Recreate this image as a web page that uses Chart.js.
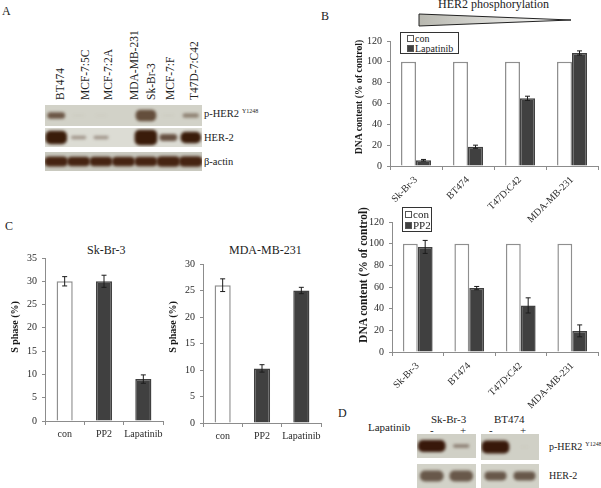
<!DOCTYPE html>
<html>
<head>
<meta charset="utf-8">
<script src="https://cdn.jsdelivr.net/npm/chart.js@4/dist/chart.umd.min.js"></script>
<style>
    html, body { margin: 0; padding: 0; background: #fff; }
    body { position: relative; width: 601px; height: 488px; overflow: hidden; font-family: "Liberation Serif", serif; color: #222; }
    canvas { position: absolute; }
    .t { position: absolute; white-space: nowrap; font-size: 11px; line-height: 12px; }
    .t sup { font-size: 6px; line-height: 0; vertical-align: 4px; margin-left: 3px; }
    .rot { transform-origin: left bottom; transform: rotate(-90deg); font-size: 11.5px; }
    .ytitle { position: absolute; white-space: nowrap; font-weight: bold; color: #1a1a1a; transform: translate(-50%, -50%) rotate(-90deg); }
    .legend { position: absolute; border: 1px solid #333; background: #fff; box-sizing: border-box; }
    .legend div { position: absolute; white-space: nowrap; }
    .legend i { display: inline-block; box-sizing: border-box; width: 7px; height: 7px; border: 1px solid #555; margin-right: 1px; vertical-align: 0; }
</style>
</head>
<body>
<!-- panel letters and wedge -->
<div class="t" style="left:2px;top:5px;font-size:12px">A</div>
<div class="t" style="left:321px;top:10px;font-size:12px">B</div>
<div class="t" style="left:5px;top:220px;font-size:12px">C</div>
<div class="t" style="left:338px;top:407px;font-size:12px">D</div>

<div class="t" style="left:438px;top:-2px;font-size:12px">HER2 phosphorylation</div>
<svg style="position:absolute;left:410px;top:8px" width="170" height="24">
    <defs><linearGradient id="wedge"><stop offset="0" stop-color="#b8b8b0"/><stop offset="1" stop-color="#fff"/></linearGradient></defs>
    <polygon points="9,6 9,18 161,12" fill="url(#wedge)" stroke="#222" stroke-width="1"/>
</svg>

<div class="t" style="left:204px;top:108px;font-size:10.5px">p-HER2<sup>Y1248</sup></div>
<div class="t" style="left:204px;top:132px;font-size:10.5px">HER-2</div>
<div class="t" style="left:204px;top:156px;font-size:10.5px">β-actin</div>

<div class="t" style="left:87px;top:244px;font-size:12px">Sk-Br-3</div>
<div class="t" style="left:229px;top:244px;font-size:12px">MDA-MB-231</div>

<div class="t" style="left:368px;top:421px">Lapatinib</div>
<div class="t" style="left:431px;top:413px">Sk-Br-3</div>
<div class="t" style="left:494px;top:413px">BT474</div>
<div class="t" style="left:430px;top:424px">-</div>
<div class="t" style="left:460px;top:424px">+</div>
<div class="t" style="left:489px;top:424px">-</div>
<div class="t" style="left:520px;top:424px">+</div>
<div class="t" style="left:549px;top:441px;font-size:10px">p-HER2<sup>Y1248</sup></div>
<div class="t" style="left:549px;top:470px;font-size:10px">HER-2</div>

<script>
// ----- values -----
const lanesA = ['BT474', 'MCF-7:5C', 'MCF-7:2A', 'MDA-MB-231', 'Sk-Br-3', 'MCF-7:F', 'T47D-7:C42'];
const pHer2DensityA = [0.55, 0.03, 0.02, 0, 1, 0.03, 0.35];
const her2DensityA = [0.85, 0.2, 0.2, 0, 1, 0.42, 0.72];
const actinDensityA = [0.85, 0.8, 0.8, 0.8, 0.8, 0.9, 0.9];

const lanesD = ['-', '+'];
const pHer2DensitySk = [1, 0.25];
const her2DensitySk = [0.8, 0.8];
const pHer2DensityBt = [1, 0.01];
const her2DensityBt = [0.65, 0.65];

const linesB = ['Sk-Br-3', 'BT474', 'T47D:C42', 'MDA-MB-231'];
const conB = [100, 100, 100, 100];
const lapatinibB = [5.5, 18.5, 65, 108.5];
const lapatinibErrB = [0.8, 1.5, 2, 2];
const pp2B = [97, 59, 43, 19.5];
const pp2ErrB = [6, 1.5, 7, 5.5];

const treatmentsC = ['con', 'PP2', 'Lapatinib'];
const sPhaseSk = [30, 30, 9];
const sPhaseSkErr = [1, 1.3, 0.9];
const sPhaseMda = [26, 10.3, 25];
const sPhaseMdaErr = [1.2, 0.7, 0.6];

const FONT = 'Liberation Serif';
const AXIS = '#8c8c8c';
const DARK = '#404040';
const BAR_EDGE = '#8f8f8f';

Chart.defaults.animation = false;
Chart.defaults.responsive = false;
Chart.defaults.font.family = FONT;
Chart.defaults.color = '#222';

// whisker + caps for every dataset carrying an errors array
const errorBarPlugin = {
    id: 'errorBars',
    afterDatasetsDraw(chart) {
        const ctx = chart.ctx;
        const y = chart.scales.y;
        ctx.save();
        ctx.strokeStyle = '#1c1c1c';
        ctx.lineWidth = 1;
        chart.data.datasets.forEach((ds, i) => {
            if (!ds.errors) return;
            chart.getDatasetMeta(i).data.forEach((bar, j) => {
                const hi = y.getPixelForValue(ds.data[j] + ds.errors[j]);
                const lo = y.getPixelForValue(ds.data[j] - ds.errors[j]);
                ctx.beginPath();
                ctx.moveTo(bar.x, hi); ctx.lineTo(bar.x, lo);
                ctx.moveTo(bar.x - 2.5, hi); ctx.lineTo(bar.x + 2.5, hi);
                ctx.moveTo(bar.x - 2.5, lo); ctx.lineTo(bar.x + 2.5, lo);
                ctx.stroke();
            });
        });
        ctx.restore();
    }
};

// makes the bands soft like film
const blurPlugin = {
    id: 'bandBlur',
    beforeDatasetsDraw(chart) { chart.ctx.save(); chart.ctx.filter = 'blur(1.4px)'; },
    afterDatasetsDraw(chart) { chart.ctx.restore(); }
};

function addCanvas(left, top, width, height) {
    const c = document.createElement('canvas');
    c.width = width;
    c.height = height;
    c.style.left = left + 'px';
    c.style.top = top + 'px';
    document.body.appendChild(c);
    return c;
}

function yTitle(text, x, y, size) {
    const el = document.createElement('div');
    el.className = 'ytitle';
    el.style.cssText = `left:${x}px;top:${y}px;font-size:${size}px`;
    el.textContent = text;
    document.body.appendChild(el);
}

// plot = pixel box of the axes, canvasLeft = left edge of the canvas
function barPanel(plot, canvasLeft, labels, datasets, yMax, yStep, opts) {
    const extraBelow = opts.below;
    const c = addCanvas(canvasLeft, plot.top - 6, plot.right - canvasLeft + 3, plot.bottom - plot.top + 6 + extraBelow);
    new Chart(c, {
        type: 'bar',
        data: { labels: labels, datasets: datasets },
        plugins: [errorBarPlugin],
        options: {
            layout: { padding: { top: 6, right: 3, left: 0, bottom: 0 } },
            plugins: { legend: { display: false }, tooltip: { enabled: false } },
            scales: {
                x: {
                    afterFit(s) { s.height = extraBelow; s.paddingLeft = 0; s.paddingRight = 0; },
                    border: { color: AXIS },
                    grid: { drawOnChartArea: false, color: AXIS, tickLength: 4, offset: true },
                    ticks: {
                        autoSkip: false,
                        minRotation: opts.rotation,
                        maxRotation: opts.rotation,
                        padding: opts.labelPad,
                        font: { size: 10 },
                        color: '#2a2a2a'
                    }
                },
                y: {
                    min: 0,
                    max: yMax,
                    afterFit(s) { s.width = plot.left - canvasLeft; },
                    border: { color: AXIS },
                    grid: { drawOnChartArea: false, color: AXIS, tickLength: 3 },
                    ticks: { stepSize: yStep, padding: 5, font: { size: 10 }, color: '#2a2a2a' }
                }
            }
        }
    });
}

function groupedSets(name, values, errs) {
    const shared = { categoryPercentage: 0.577, barPercentage: 1, borderWidth: 1.5 };
    return [
        Object.assign({ label: 'con', data: conB, backgroundColor: '#fff', borderColor: BAR_EDGE }, shared),
        Object.assign({ label: name, data: values, errors: errs, backgroundColor: DARK, borderColor: DARK }, shared)
    ];
}

function treatmentSet(values, errs) {
    return [{
        data: values,
        errors: errs,
        backgroundColor: ['#fff', DARK, DARK],
        borderColor: [BAR_EDGE, DARK, DARK],
        borderWidth: 1.5,
        categoryPercentage: 0.41,
        barPercentage: 1
    }];
}

// Western blot strip: one floating bar per lane, size and darkness from the density
function blotStrip(box, labels, density, look) {
    const c = addCanvas(box.left, box.top, box.width, box.height);
    c.style.background = look.bg;
    const sets = labels.map((lab, i) => {
        const d = density[i];
        return {
            label: lab,
            data: labels.map((_, j) => (j === i && d > 0 ? [-d, d] : null)),
            barThickness: look.minWidth + look.spanWidth * Math.sqrt(d),
            backgroundColor: `rgba(${look.ink},${Math.min(1, d * 1.6 + 0.05)})`,
            borderRadius: 5,
            borderSkipped: false,
            grouped: false
        };
    });
    new Chart(c, {
        type: 'bar',
        data: { labels: labels, datasets: sets },
        plugins: [blurPlugin],
        options: {
            layout: { padding: 0 },
            plugins: { legend: { display: false }, tooltip: { enabled: false } },
            scales: {
                x: { display: false },
                y: { display: false, min: -look.range, max: look.range }
            }
        }
    });
}

function htmlLegend(box, names, swatches, swatchX, rowY, size) {
    const el = document.createElement('div');
    el.className = 'legend';
    el.style.cssText = `left:${box.left}px;top:${box.top}px;width:${box.width}px;height:${box.height}px`;
    names.forEach((n, i) => {
        const row = document.createElement('div');
        row.style.cssText = `left:${swatchX}px;top:${rowY[i]}px;font-size:${size}px;line-height:11px`;
        const sw = document.createElement('i');
        sw.style.background = swatches[i];
        row.appendChild(sw);
        row.appendChild(document.createTextNode(n));
        el.appendChild(row);
    });
    document.body.appendChild(el);
}

// ----- panel A -----
const laneLabelX = [66, 91, 114, 140, 157, 176, 200];
lanesA.forEach((name, i) => {
    const el = document.createElement('div');
    el.className = 't rot';
    el.style.left = laneLabelX[i] + 'px';
    el.style.top = '88px';
    el.textContent = name;
    document.body.appendChild(el);
});
blotStrip({ left: 45, top: 105, width: 157, height: 21 }, lanesA, pHer2DensityA,
    { bg: '#d2d2c8', ink: '100,78,60', range: 1.9, minWidth: 9, spanWidth: 11 });
blotStrip({ left: 45, top: 128, width: 157, height: 19 }, lanesA, her2DensityA,
    { bg: '#dcdcd4', ink: '58,28,10', range: 1.27, minWidth: 8, spanWidth: 14 });
blotStrip({ left: 45, top: 152, width: 157, height: 19 }, lanesA, actinDensityA,
    { bg: '#c9c9bf', ink: '70,36,18', range: 1.7, minWidth: 12, spanWidth: 12 });

// ----- panel B -----
barPanel({ left: 390, right: 598, top: 36, bottom: 166 }, 350, linesB,
    groupedSets('Lapatinib', lapatinibB, lapatinibErrB), 120, 20,
    { below: 72, rotation: 45, labelPad: 4 });
barPanel({ left: 392, right: 598, top: 217, bottom: 352 }, 357, linesB,
    groupedSets('PP2', pp2B, pp2ErrB), 120, 20,
    { below: 72, rotation: 45, labelPad: 4 });
yTitle('DNA content (% of control)', 358, 97, 9.7);
yTitle('DNA content (% of control)', 363, 275, 11.5);
htmlLegend({ left: 400, top: 32, width: 59, height: 22 }, ['con', 'Lapatinib'], ['#fff', DARK], 6, [0, 10], 10);
htmlLegend({ left: 402, top: 207, width: 30, height: 25 }, ['con', 'PP2'], ['#fff', DARK], 2, [1, 12], 11);

// ----- panel C -----
barPanel({ left: 45, right: 163, top: 253, bottom: 421 }, 8, treatmentsC,
    treatmentSet(sPhaseSk, sPhaseSkErr), 35, 5,
    { below: 24, rotation: 0, labelPad: 3 });
barPanel({ left: 203, right: 321, top: 259, bottom: 423 }, 166, treatmentsC,
    treatmentSet(sPhaseMda, sPhaseMdaErr), 30, 5,
    { below: 24, rotation: 0, labelPad: 3 });
yTitle('S phase (%)', 14, 327, 10);
yTitle('S phase (%)', 172, 327, 10);

// ----- panel D -----
const lookPD = { bg: '#d0d0c6', ink: '56,24,10', range: 2.1, minWidth: 4, spanWidth: 23 };
const lookHD = { bg: '#d2d2c8', ink: '104,88,74', range: 1.9, minWidth: 6, spanWidth: 19 };
blotStrip({ left: 417, top: 434, width: 59, height: 24 }, lanesD, pHer2DensitySk, lookPD);
blotStrip({ left: 417, top: 464, width: 59, height: 24 }, lanesD, her2DensitySk, lookHD);
blotStrip({ left: 481, top: 434, width: 58, height: 26 }, lanesD, pHer2DensityBt, lookPD);
blotStrip({ left: 481, top: 464, width: 58, height: 24 }, lanesD, her2DensityBt, lookHD);
</script>
</body>
</html>
